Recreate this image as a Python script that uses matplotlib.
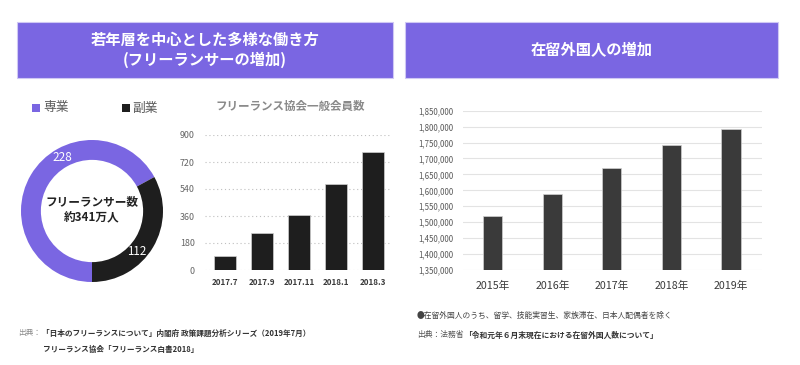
import numpy as np
import matplotlib.pyplot as plt
from matplotlib.patches import Rectangle

plt.rcParams['font.family'] = ['Noto Sans CJK JP', 'DejaVu Sans']

# --- data ---
header_left = '若年層を中心とした多様な働き方\n(フリーランサーの増加)'
header_right = '在留外国人の増加'

work_types = ['専業', '副業']
freelancers = [228, 112]          # 万人
donut_center = 'フリーランサー数\n約341万人'

member_months = ['2017.7', '2017.9', '2017.11', '2018.1', '2018.3']
member_counts = [96, 244, 367, 573, 784]
member_title = 'フリーランス協会一般会員数'

years = ['2015年', '2016年', '2017年', '2018年', '2019年']
foreign_residents = [1519000, 1589000, 1669000, 1742000, 1792000]

note_left_src = '出典：'
note_left_1 = '「日本のフリーランスについて」内閣府 政策課題分析シリーズ（2019年7月）'
note_left_2 = 'フリーランス協会「フリーランス白書2018」'
note_right_1 = '●在留外国人のうち、留学、技能実習生、家族滞在、日本人配偶者を除く'
note_right_src = '出典：法務省'
note_right_2 = '「令和元年６月末現在における在留外国人数について」'

purple = '#7A66E2'
W, H = 800, 365


def fx(px):
    return px / W


def fy(py):
    return 1 - py / H


fig = plt.figure(figsize=(8, 3.65), dpi=100)
fig.patch.set_facecolor('white')

# header boxes
for x0, x1, txt in [(17, 393, header_left), (405, 778, header_right)]:
    fig.patches.append(Rectangle((fx(x0), fy(78)), fx(x1 - x0), (78 - 22) / H,
                                 transform=fig.transFigure, facecolor=purple,
                                 edgecolor='#cfc8f4', linewidth=0.8))
    fig.text(fx((x0 + x1) / 2), fy(50), txt, ha='center', va='center',
             color='white', fontsize=11, fontweight='bold', linespacing=1.25)

# donut
ax_d = fig.add_axes([fx(92 - 75), fy(211 + 75), fx(150), 150 / H])
wedges, _ = ax_d.pie(freelancers, colors=[purple, '#1e1e1e'], startangle=-90,
                     counterclock=False, radius=1,
                     wedgeprops=dict(width=0.28, edgecolor='none'))
ax_d.set_xlim(-75 / 71, 75 / 71)
ax_d.set_ylim(-75 / 71, 75 / 71)
ax_d.set_aspect('equal')
for val, ang in zip(freelancers, [119, -42]):
    a = np.deg2rad(ang)
    ax_d.text(0.855 * np.cos(a), 0.855 * np.sin(a), str(val), ha='center',
              va='center', color='white', fontsize=8.4)
ax_d.text(0, 0.02, donut_center, ha='center', va='center', fontsize=8.4,
          fontweight='bold', color='#222222', linespacing=1.35)

# legend
for (sx, tx), name, col in zip([(32, 43), (122, 132)], work_types, [purple, '#1e1e1e']):
    fig.patches.append(Rectangle((fx(sx), fy(112)), fx(8), 8 / H,
                                 transform=fig.transFigure, facecolor=col,
                                 edgecolor='none'))
    fig.text(fx(tx), fy(108), name, ha='left', va='center', fontsize=9.2,
             color='#595959')

# members bar chart
ax1 = fig.add_axes([fx(205), fy(270), fx(185), 135 / H])
x1 = np.arange(len(member_months))
ax1.bar(x1, member_counts, width=0.59, color='#1e1e1e', edgecolor='#d0d0d0',
        linewidth=0.5, zorder=3)
ax1.set_xlim(-0.55, 4.45)
ax1.set_ylim(0, 900)
ax1.set_yticks(np.arange(0, 901, 180))
ax1.set_yticklabels([str(v) for v in range(0, 901, 180)], fontsize=6.4, color='#666666')
ax1.set_xticks(x1)
ax1.set_xticklabels(member_months, fontsize=5.8, fontweight='bold', color='#3a3a3a')
ax1.tick_params(axis='x', length=0, pad=5.5)
ax1.tick_params(axis='y', length=0, pad=7.5)
ax1.yaxis.grid(True, linestyle=(0, (1, 2.5)), color='#bfbfbf', linewidth=0.8, zorder=0)
for s in ax1.spines.values():
    s.set_visible(False)
fig.text(fx(290), fy(106), member_title, ha='center', va='center', fontsize=8.3,
         fontweight='bold', color='#8a8a8a')

# foreign residents bar chart
ax2 = fig.add_axes([fx(463), fy(270), fx(299), (270 - 110.7) / H])
x2 = np.arange(len(years))
ax2.bar(x2, foreign_residents, width=0.32, color='#3a3a3a', edgecolor='#d0d0d0',
        linewidth=0.5, zorder=3)
ax2.set_xlim(-0.5, 4.52)
ax2.set_ylim(1350000, 1850000)
ax2.set_yticks(np.arange(1350000, 1850001, 50000))
ax2.set_yticklabels([f'{v:,}' for v in range(1350000, 1850001, 50000)])
ax2.set_xticks(x2)
ax2.set_xticklabels(years, fontsize=7.7, color='#3a3a3a')
ax2.tick_params(axis='x', length=0, pad=8)
ax2.tick_params(axis='y', length=0, pad=7, labelsize=5.7, labelcolor='#595959')
ax2.yaxis.grid(True, color='#e3e3e3', linewidth=0.8, zorder=0)
for s in ax2.spines.values():
    s.set_visible(False)

# footnotes
fs = 5.5
fig.text(fx(18), fy(333), note_left_src, ha='left', va='center', fontsize=fs, color='#8c8c8c')
fig.text(fx(42), fy(333), note_left_1, ha='left', va='center', fontsize=fs,
         fontweight='bold', color='#333333')
fig.text(fx(43), fy(349), note_left_2, ha='left', va='center', fontsize=fs,
         fontweight='bold', color='#333333')
fig.text(fx(417), fy(316), note_right_1, ha='left', va='center', fontsize=5.6, color='#444444')
fig.text(fx(417), fy(335), note_right_src, ha='left', va='center', fontsize=5.6, color='#555555')
fig.text(fx(464), fy(335), note_right_2, ha='left', va='center', fontsize=5.6,
         fontweight='bold', color='#333333')

fig.savefig('out.png', dpi=100, facecolor='white')
